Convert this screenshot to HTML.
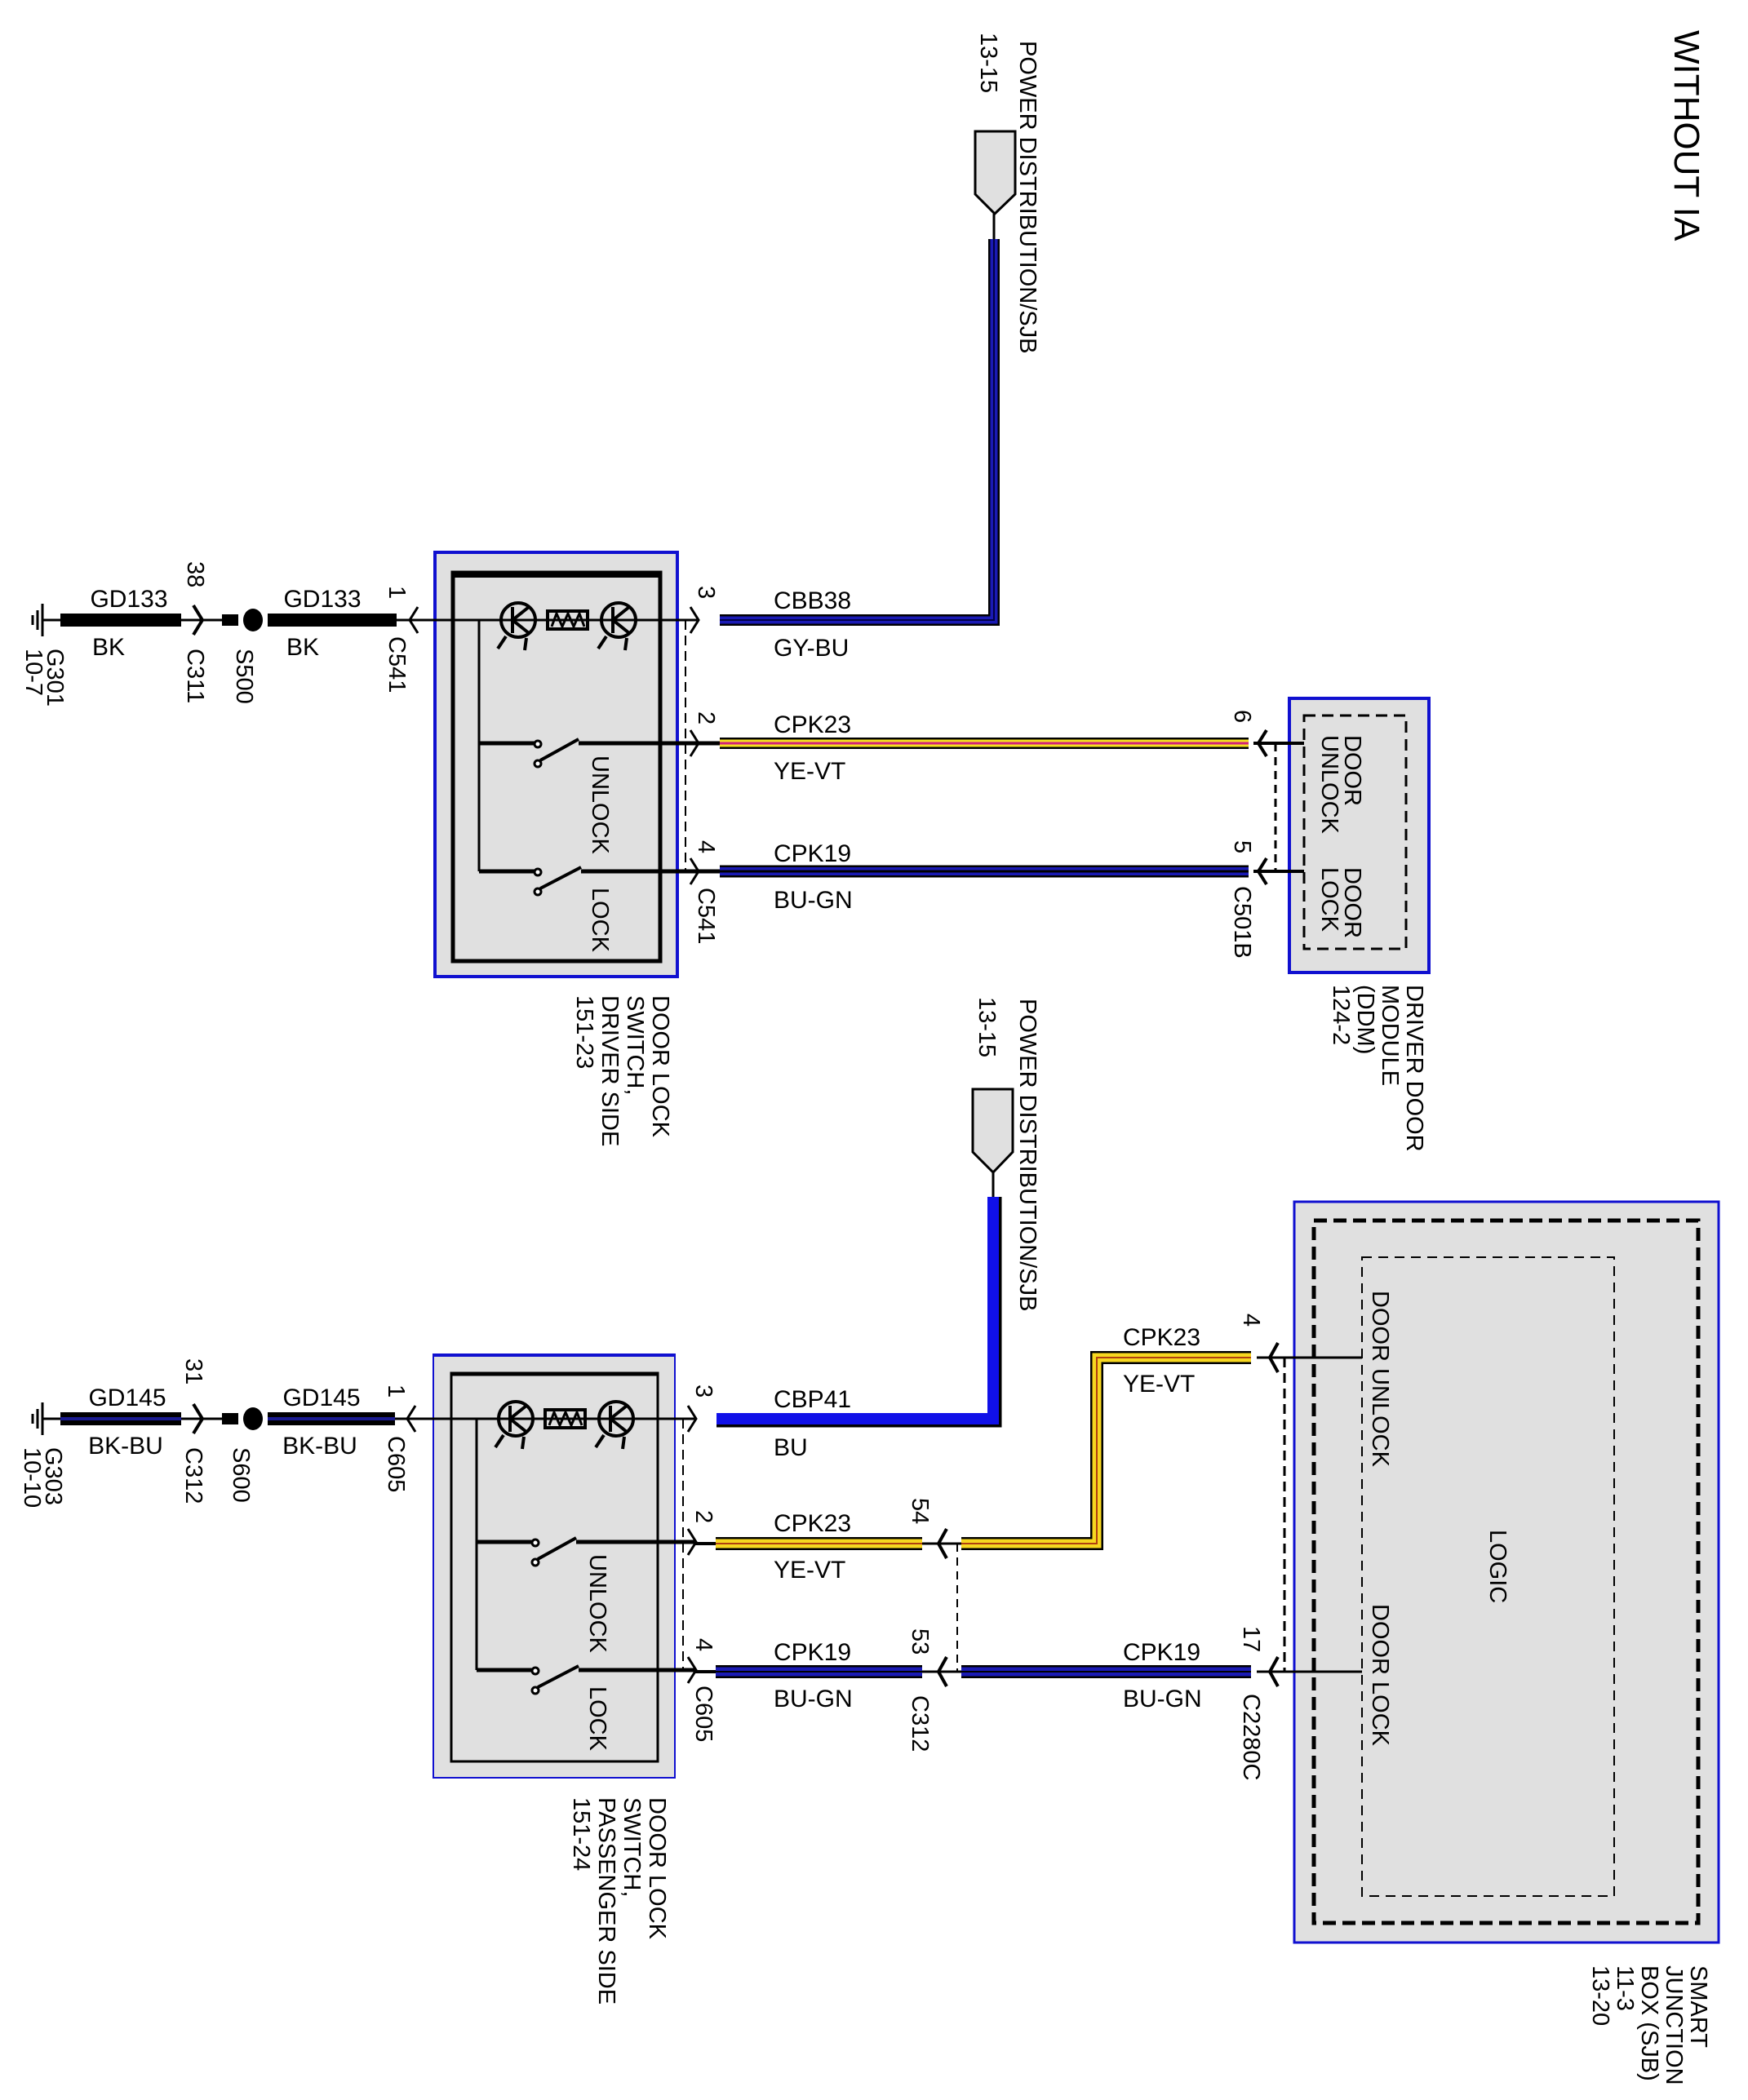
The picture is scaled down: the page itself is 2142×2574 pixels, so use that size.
<!DOCTYPE html>
<html><head><meta charset="utf-8"><style>
html,body{margin:0;padding:0;background:#fff;}
svg{display:block;}
text{font-family:"Liberation Sans Narrow","Liberation Sans",Arial,sans-serif;fill:#000;}
.l{font-size:30px;}
.r{font-size:29px;}
</style></head><body>
<svg width="2142" height="2574" viewBox="0 0 2142 2574" xmlns="http://www.w3.org/2000/svg">
<defs>
<g id="sw">
  <line x1="508" y1="760" x2="854" y2="760" stroke="#000" stroke-width="3"/>
  <circle cx="635" cy="760" r="21" fill="none" stroke="#000" stroke-width="4"/>
  <line x1="628" y1="744" x2="628" y2="776" stroke="#000" stroke-width="4"/>
  <line x1="628" y1="760" x2="648" y2="744" stroke="#000" stroke-width="4"/>
  <line x1="628" y1="760" x2="648" y2="776" stroke="#000" stroke-width="4"/>
  <line x1="620" y1="780" x2="610" y2="795" stroke="#000" stroke-width="4"/>
  <line x1="645" y1="782" x2="643" y2="797" stroke="#000" stroke-width="4"/>
  <rect x="671" y="749" width="49" height="22" fill="none" stroke="#000" stroke-width="4"/>
  <polyline points="676,768 682,752 689,768 696,752 703,768 710,752 716,768" fill="none" stroke="#000" stroke-width="3"/>
  <circle cx="758" cy="760" r="21" fill="none" stroke="#000" stroke-width="4"/>
  <line x1="751" y1="744" x2="751" y2="776" stroke="#000" stroke-width="4"/>
  <line x1="751" y1="760" x2="771" y2="744" stroke="#000" stroke-width="4"/>
  <line x1="751" y1="760" x2="771" y2="776" stroke="#000" stroke-width="4"/>
  <line x1="743" y1="780" x2="733" y2="795" stroke="#000" stroke-width="4"/>
  <line x1="768" y1="782" x2="766" y2="797" stroke="#000" stroke-width="4"/>
  <line x1="587" y1="760" x2="587" y2="1068" stroke="#000" stroke-width="3"/>
  <line x1="587" y1="911" x2="656" y2="911" stroke="#000" stroke-width="5"/>
  <circle cx="659" cy="912" r="4" fill="#fff" stroke="#000" stroke-width="3"/>
  <circle cx="659" cy="936" r="4" fill="#fff" stroke="#000" stroke-width="3"/>
  <line x1="662" y1="932" x2="709" y2="906" stroke="#000" stroke-width="4"/>
  <line x1="709" y1="911" x2="854" y2="911" stroke="#000" stroke-width="5"/>
  <line x1="587" y1="1068" x2="656" y2="1068" stroke="#000" stroke-width="5"/>
  <circle cx="659" cy="1069" r="4" fill="#fff" stroke="#000" stroke-width="3"/>
  <circle cx="659" cy="1093" r="4" fill="#fff" stroke="#000" stroke-width="3"/>
  <line x1="662" y1="1089" x2="712" y2="1063" stroke="#000" stroke-width="4"/>
  <line x1="712" y1="1068" x2="854" y2="1068" stroke="#000" stroke-width="5"/>
  <line x1="840" y1="760" x2="840" y2="1068" stroke="#000" stroke-width="2" stroke-dasharray="12,7"/>
  <polyline points="846,744 856,760 846,776" fill="none" stroke="#000" stroke-width="3"/>
  <polyline points="846,895 856,911 846,927" fill="none" stroke="#000" stroke-width="3"/>
  <polyline points="846,1052 856,1068 846,1084" fill="none" stroke="#000" stroke-width="3"/>
  <polyline points="512,744 502,760 512,776" fill="none" stroke="#000" stroke-width="3"/>
  <text class="r" transform="translate(726,1088) rotate(90)">LOCK</text>
</g>
</defs>

<text transform="translate(2052,37) rotate(90)" style="font-size:44px">WITHOUT IA</text>

<!-- ===== DRIVER ===== -->
<rect x="533" y="677" width="297" height="520" fill="#e0e0e0" stroke="#1010d0" stroke-width="4"/>
<rect x="555" y="702" width="254" height="476" fill="none" stroke="#000" stroke-width="5"/>
<line x1="555" y1="704" x2="809" y2="704" stroke="#000" stroke-width="8"/>
<use href="#sw"/>
<text class="r" transform="translate(726,926) rotate(90)">UNLOCK</text>

<line x1="52" y1="740" x2="52" y2="780" stroke="#000" stroke-width="3"/>
<line x1="46" y1="748" x2="46" y2="772" stroke="#000" stroke-width="3"/>
<line x1="40" y1="754" x2="40" y2="766" stroke="#000" stroke-width="3"/>
<line x1="52" y1="760" x2="76" y2="760" stroke="#000" stroke-width="3"/>
<rect x="74" y="752" width="148" height="16" fill="#000"/>
<line x1="222" y1="760" x2="272" y2="760" stroke="#000" stroke-width="3"/>
<polyline points="237,742 248,760 237,778" fill="none" stroke="#000" stroke-width="4"/>
<rect x="272" y="753" width="20" height="14" fill="#000"/>
<ellipse cx="310" cy="760" rx="12" ry="14" fill="#000"/>
<rect x="328" y="752" width="158" height="16" fill="#000"/>
<line x1="486" y1="760" x2="510" y2="760" stroke="#000" stroke-width="3"/>
<text class="l" x="158" y="744" text-anchor="middle">GD133</text>
<text class="l" x="133" y="803" text-anchor="middle">BK</text>
<text class="l" x="395" y="744" text-anchor="middle">GD133</text>
<text class="l" x="371" y="803" text-anchor="middle">BK</text>
<text class="r" transform="translate(230,688) rotate(90)">38</text>
<text class="r" transform="translate(58,795) rotate(90)">G301<tspan x="0" dy="26">10-7</tspan></text>
<text class="r" transform="translate(230,795) rotate(90)">C311</text>
<text class="r" transform="translate(290,795) rotate(90)">S500</text>
<text class="r" transform="translate(477,718) rotate(90)">1</text>
<text class="r" transform="translate(477,780) rotate(90)">C541</text>

<polyline points="882,760 1218,760 1218,293" fill="none" stroke="#000" stroke-width="14"/>
<polyline points="882,760 1218,760 1218,293" fill="none" stroke="#1a1ab4" stroke-width="9"/>
<polyline points="882,760 1218,760 1218,293" fill="none" stroke="#000048" stroke-width="2"/>
<line x1="1218" y1="293" x2="1218" y2="262" stroke="#000" stroke-width="3"/>
<polygon points="1195,161 1244,161 1244,238 1219,262 1195,238" fill="#e0e0e0" stroke="#000" stroke-width="3"/>
<text class="r" transform="translate(1250,50) rotate(90)">POWER DISTRIBUTION/SJB</text>
<text class="r" transform="translate(1202,40) rotate(90)">13-15</text>

<line x1="882" y1="911" x2="1530" y2="911" stroke="#000" stroke-width="14"/>
<line x1="882" y1="911" x2="1530" y2="911" stroke="#f7e020" stroke-width="9"/>
<line x1="882" y1="911" x2="1530" y2="911" stroke="#d0207a" stroke-width="3"/>
<line x1="882" y1="1068" x2="1530" y2="1068" stroke="#000" stroke-width="15"/>
<line x1="882" y1="1068" x2="1530" y2="1068" stroke="#1a1ab4" stroke-width="10"/>
<line x1="882" y1="1068" x2="1530" y2="1068" stroke="#000" stroke-width="3"/>
<line x1="854" y1="911" x2="882" y2="911" stroke="#000" stroke-width="5"/>
<line x1="854" y1="1068" x2="882" y2="1068" stroke="#000" stroke-width="5"/>
<text class="l" x="948" y="746">CBB38</text>
<text class="l" x="948" y="804">GY-BU</text>
<text class="l" x="948" y="898">CPK23</text>
<text class="l" x="948" y="955">YE-VT</text>
<text class="l" x="948" y="1056">CPK19</text>
<text class="l" x="948" y="1113">BU-GN</text>
<text class="r" transform="translate(856,718) rotate(90)">3</text>
<text class="r" transform="translate(856,872) rotate(90)">2</text>
<text class="r" transform="translate(856,1030) rotate(90)">4</text>
<text class="r" transform="translate(856,1088) rotate(90)">C541</text>
<text class="r" transform="translate(800,1220) rotate(90)">DOOR LOCK<tspan x="0" dy="31">SWITCH,</tspan><tspan x="0" dy="31">DRIVER SIDE</tspan><tspan x="0" dy="31">151-23</tspan></text>

<rect x="1580" y="856" width="171" height="336" fill="#e0e0e0" stroke="#1010d0" stroke-width="4"/>
<rect x="1598" y="877" width="125" height="286" fill="none" stroke="#000" stroke-width="3" stroke-dasharray="14,8"/>
<line x1="1536" y1="911" x2="1598" y2="911" stroke="#000" stroke-width="4"/>
<line x1="1536" y1="1068" x2="1598" y2="1068" stroke="#000" stroke-width="4"/>
<polyline points="1552,895 1542,911 1552,927" fill="none" stroke="#000" stroke-width="4"/>
<polyline points="1552,1052 1542,1068 1552,1084" fill="none" stroke="#000" stroke-width="4"/>
<line x1="1563" y1="911" x2="1563" y2="1068" stroke="#000" stroke-width="3" stroke-dasharray="10,7"/>
<text class="r" transform="translate(1513,870) rotate(90)">6</text>
<text class="r" transform="translate(1513,1030) rotate(90)">5</text>
<text class="r" transform="translate(1513,1086) rotate(90)">C501B</text>
<text class="r" transform="translate(1648,901) rotate(90)">DOOR<tspan x="0" dy="28">UNLOCK</tspan></text>
<text class="r" transform="translate(1648,1063) rotate(90)">DOOR<tspan x="0" dy="28">LOCK</tspan></text>
<text class="r" transform="translate(1724,1207) rotate(90)">DRIVER DOOR<tspan x="0" dy="30">MODULE</tspan><tspan x="0" dy="30">(DDM)</tspan><tspan x="0" dy="30">124-2</tspan></text>

<!-- ===== PASSENGER ===== -->
<rect x="531" y="1660" width="296" height="519" fill="#e0e0e0" stroke="#1010d0" stroke-width="2"/>
<line x1="531" y1="1661" x2="827" y2="1661" stroke="#1010d0" stroke-width="4"/>
<rect x="553" y="1683" width="253" height="476" fill="none" stroke="#000" stroke-width="3"/>
<line x1="553" y1="1684" x2="806" y2="1684" stroke="#000" stroke-width="5"/>
<use href="#sw" transform="translate(-3,979)"/>
<text class="r" transform="translate(723,1905) rotate(90)">UNLOCK</text>

<line x1="52" y1="1719" x2="52" y2="1759" stroke="#000" stroke-width="3"/>
<line x1="46" y1="1727" x2="46" y2="1751" stroke="#000" stroke-width="3"/>
<line x1="40" y1="1733" x2="40" y2="1745" stroke="#000" stroke-width="3"/>
<line x1="52" y1="1739" x2="76" y2="1739" stroke="#000" stroke-width="3"/>
<rect x="74" y="1731" width="148" height="16" fill="#000"/>
<line x1="74" y1="1739" x2="222" y2="1739" stroke="#1a1a90" stroke-width="4"/>
<line x1="222" y1="1739" x2="272" y2="1739" stroke="#000" stroke-width="3"/>
<polyline points="237,1721 248,1739 237,1757" fill="none" stroke="#000" stroke-width="4"/>
<rect x="272" y="1732" width="20" height="14" fill="#000"/>
<ellipse cx="310" cy="1739" rx="12" ry="14" fill="#000"/>
<rect x="328" y="1731" width="156" height="16" fill="#000"/>
<line x1="328" y1="1739" x2="484" y2="1739" stroke="#1a1a90" stroke-width="4"/>
<line x1="484" y1="1739" x2="508" y2="1739" stroke="#000" stroke-width="3"/>
<text class="l" x="156" y="1723" text-anchor="middle">GD145</text>
<text class="l" x="154" y="1782" text-anchor="middle">BK-BU</text>
<text class="l" x="394" y="1723" text-anchor="middle">GD145</text>
<text class="l" x="392" y="1782" text-anchor="middle">BK-BU</text>
<text class="r" transform="translate(228,1665) rotate(90)">31</text>
<text class="r" transform="translate(56,1774) rotate(90)">G303<tspan x="0" dy="26">10-10</tspan></text>
<text class="r" transform="translate(228,1774) rotate(90)">C312</text>
<text class="r" transform="translate(286,1774) rotate(90)">S600</text>
<text class="r" transform="translate(476,1697) rotate(90)">1</text>
<text class="r" transform="translate(476,1760) rotate(90)">C605</text>

<polyline points="878,1741 1219,1741 1219,1467" fill="none" stroke="#000" stroke-width="17"/>
<polyline points="878,1739 1217,1739 1217,1467" fill="none" stroke="#1010e8" stroke-width="14"/>
<line x1="1217" y1="1467" x2="1217" y2="1437" stroke="#000" stroke-width="3"/>
<polygon points="1192,1335 1241,1335 1241,1412 1217,1437 1192,1412" fill="#e0e0e0" stroke="#000" stroke-width="3"/>
<text class="r" transform="translate(1250,1224) rotate(90)">POWER DISTRIBUTION/SJB</text>
<text class="r" transform="translate(1200,1222) rotate(90)">13-15</text>

<line x1="877" y1="1892" x2="1130" y2="1892" stroke="#000" stroke-width="16"/>
<line x1="877" y1="1892" x2="1130" y2="1892" stroke="#f7d820" stroke-width="11"/>
<line x1="877" y1="1892" x2="1130" y2="1892" stroke="#b04010" stroke-width="2"/>
<polyline points="1178,1892 1344,1892 1344,1664 1533,1664" fill="none" stroke="#000" stroke-width="16"/>
<polyline points="1178,1892 1344,1892 1344,1664 1533,1664" fill="none" stroke="#f7d820" stroke-width="11"/>
<polyline points="1178,1892 1344,1892 1344,1664 1533,1664" fill="none" stroke="#b04010" stroke-width="2"/>
<line x1="877" y1="2049" x2="1130" y2="2049" stroke="#000" stroke-width="16"/>
<line x1="877" y1="2049" x2="1130" y2="2049" stroke="#1a1ab4" stroke-width="11"/>
<line x1="877" y1="2049" x2="1130" y2="2049" stroke="#000" stroke-width="2"/>
<line x1="1178" y1="2049" x2="1533" y2="2049" stroke="#000" stroke-width="16"/>
<line x1="1178" y1="2049" x2="1533" y2="2049" stroke="#1a1ab4" stroke-width="11"/>
<line x1="1178" y1="2049" x2="1533" y2="2049" stroke="#000" stroke-width="2"/>
<line x1="851" y1="1892" x2="877" y2="1892" stroke="#000" stroke-width="4"/>
<line x1="851" y1="2049" x2="877" y2="2049" stroke="#000" stroke-width="4"/>
<line x1="1130" y1="1892" x2="1178" y2="1892" stroke="#000" stroke-width="3"/>
<line x1="1130" y1="2049" x2="1178" y2="2049" stroke="#000" stroke-width="3"/>
<polyline points="1160,1874 1150,1892 1160,1910" fill="none" stroke="#000" stroke-width="4"/>
<polyline points="1160,2031 1150,2049 1160,2067" fill="none" stroke="#000" stroke-width="4"/>
<line x1="1173" y1="1892" x2="1173" y2="2049" stroke="#000" stroke-width="2" stroke-dasharray="10,7"/>
<text class="l" x="948" y="1725">CBP41</text>
<text class="l" x="948" y="1784">BU</text>
<text class="l" x="948" y="1877">CPK23</text>
<text class="l" x="948" y="1934">YE-VT</text>
<text class="l" x="948" y="2035">CPK19</text>
<text class="l" x="948" y="2092">BU-GN</text>
<text class="l" x="1376" y="1649">CPK23</text>
<text class="l" x="1376" y="1706">YE-VT</text>
<text class="l" x="1376" y="2035">CPK19</text>
<text class="l" x="1376" y="2092">BU-GN</text>
<text class="r" transform="translate(853,1697) rotate(90)">3</text>
<text class="r" transform="translate(853,1851) rotate(90)">2</text>
<text class="r" transform="translate(853,2008) rotate(90)">4</text>
<text class="r" transform="translate(853,2066) rotate(90)">C605</text>
<text class="r" transform="translate(1118,1836) rotate(90)">54</text>
<text class="r" transform="translate(1118,1996) rotate(90)">53</text>
<text class="r" transform="translate(1118,2078) rotate(90)">C312</text>
<text class="r" transform="translate(1524,1610) rotate(90)">4</text>
<text class="r" transform="translate(1524,1993) rotate(90)">17</text>
<text class="r" transform="translate(1524,2076) rotate(90)">C2280C</text>
<text class="r" transform="translate(796,2203) rotate(90)">DOOR LOCK<tspan x="0" dy="31">SWITCH,</tspan><tspan x="0" dy="31">PASSENGER SIDE</tspan><tspan x="0" dy="31">151-24</tspan></text>

<rect x="1586" y="1473" width="520" height="908" fill="#e0e0e0" stroke="#1010d0" stroke-width="3"/>
<rect x="1610" y="1496" width="471" height="861" fill="none" stroke="#000" stroke-width="5" stroke-dasharray="16,8"/>
<rect x="1669" y="1541" width="309" height="783" fill="none" stroke="#000" stroke-width="2" stroke-dasharray="12,8"/>
<line x1="1540" y1="1664" x2="1669" y2="1664" stroke="#000" stroke-width="3"/>
<line x1="1540" y1="2049" x2="1669" y2="2049" stroke="#000" stroke-width="3"/>
<polyline points="1566,1646 1556,1664 1566,1682" fill="none" stroke="#000" stroke-width="4"/>
<polyline points="1566,2031 1556,2049 1566,2067" fill="none" stroke="#000" stroke-width="4"/>
<line x1="1574" y1="1664" x2="1574" y2="2049" stroke="#000" stroke-width="3" stroke-dasharray="12,7"/>
<text class="r" transform="translate(1682,1582) rotate(90)">DOOR UNLOCK</text>
<text class="r" transform="translate(1682,1966) rotate(90)">DOOR LOCK</text>
<text class="r" transform="translate(1826,1875) rotate(90)">LOGIC</text>
<text class="r" transform="translate(2072,2409) rotate(90)">SMART<tspan x="0" dy="30">JUNCTION</tspan><tspan x="0" dy="30">BOX (SJB)</tspan><tspan x="0" dy="30">11-3</tspan><tspan x="0" dy="30">13-20</tspan></text>
</svg>
</body></html>
